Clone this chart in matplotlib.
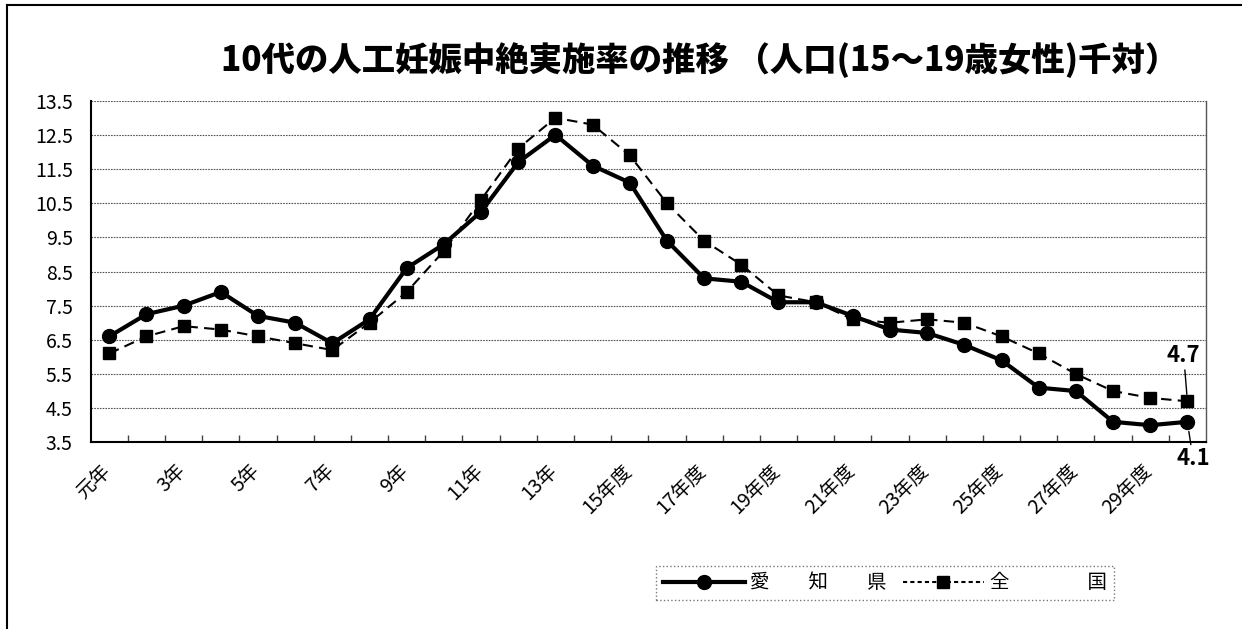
import matplotlib
matplotlib.use("Agg")
import matplotlib.pyplot as plt
from matplotlib.lines import Line2D

plt.rcParams['font.family'] = ['Noto Sans CJK JP', 'DejaVu Sans']

categories = (["元年"] + [f"{i}年" for i in range(2, 15)] +
              [f"{i}年度" for i in range(15, 31)])
aichi = [6.6, 7.25, 7.5, 7.9, 7.2, 7.0, 6.4, 7.1, 8.6, 9.3,
         10.25, 11.7, 12.5, 11.6, 11.1, 9.4, 8.3, 8.2, 7.6, 7.6,
         7.2, 6.8, 6.7, 6.35, 5.9, 5.1, 5.0, 4.1, 4.0, 4.1]
zenkoku = [6.1, 6.6, 6.9, 6.8, 6.6, 6.4, 6.2, 7.0, 7.9, 9.1,
           10.6, 12.1, 13.0, 12.8, 11.9, 10.5, 9.4, 8.7, 7.8, 7.6,
           7.1, 7.0, 7.1, 7.0, 6.6, 6.1, 5.5, 5.0, 4.8, 4.7]
yticks = [3.5, 4.5, 5.5, 6.5, 7.5, 8.5, 9.5, 10.5, 11.5, 12.5, 13.5]
title = "10代の人工妊娠中絶実施率の推移 （人口(15～19歳女性)千対）"
legend_labels = ["愛　　知　　県", "全　　　　国"]

fig = plt.figure(figsize=(12.42, 6.29), dpi=100)
ax = fig.add_axes([90.7/1242, 1-442.3/629, (1206-90.7)/1242, (442.3-100.7)/629])

x = list(range(len(categories)))
ax.plot(x, aichi, color='black', lw=3.0, marker='o', ms=10, zorder=4)
ax.plot(x, zenkoku, color='black', lw=1.5, ls=(0, (5, 3)), marker='s', ms=8.5, zorder=3)

ax.set_xlim(-0.5, len(categories) - 0.5)
ax.set_ylim(3.5, 13.5)
ax.set_yticks(yticks)
ax.set_yticklabels([f"{v}" for v in yticks], fontsize=14)
ax.tick_params(axis='y', length=0, pad=13)

ax.set_xticks(x)
ax.set_xticklabels([c if i % 2 == 0 else "" for i, c in enumerate(categories)],
                   rotation=45, ha='right', fontsize=14)
ax.tick_params(axis='x', which='major', length=0, pad=13)
ax.set_xticks([i - 0.5 for i in range(1, len(categories))], minor=True)
ax.tick_params(axis='x', which='minor', direction='in', length=5, width=1, color='#444444')
for lbl in ax.get_xticklabels():
    lbl.set_transform(lbl.get_transform() + matplotlib.transforms.ScaledTranslation(6/100, 0, fig.dpi_scale_trans))

ax.grid(axis='y', ls=(0, (1.5, 1)), color='#555555', lw=0.8)
ax.set_axisbelow(True)
ax.spines['top'].set_visible(False)
ax.spines['left'].set_linewidth(1.5)
ax.spines['bottom'].set_linewidth(1.5)
ax.spines['right'].set_linewidth(1.0)
ax.spines['right'].set_color('#555555')

# annotations for last values
last = len(categories) - 1
ax.annotate(f"{zenkoku[-1]}", xy=(last, zenkoku[-1]), xytext=(last - 0.1, 5.7),
            fontsize=16, fontweight='bold', ha='center', va='bottom',
            arrowprops=dict(arrowstyle='-', color='black', lw=1, shrinkA=0, shrinkB=5))
ax.annotate(f"{aichi[-1]}", xy=(last, aichi[-1]), xytext=(last + 0.15, 3.35),
            fontsize=16, fontweight='bold', ha='center', va='top', annotation_clip=False,
            arrowprops=dict(arrowstyle='-', color='black', lw=1, shrinkA=0, shrinkB=7))

fig.text(700/1242, 1-60/629, title, fontsize=24, fontweight='black',
         ha='center', va='center')

handles = [Line2D([], [], color='black', lw=3.0, marker='o', ms=10),
           Line2D([], [], color='black', lw=1.5, ls=(0, (2, 1.5)), marker='s', ms=8.5)]
leg = fig.legend(handles, legend_labels, loc='center', bbox_to_anchor=(885/1242, 1-583/629),
                 ncol=2, fontsize=14, handlelength=4.2, columnspacing=0.8, handletextpad=0.3,
                 fancybox=False, edgecolor='#555555', borderpad=0.35)
leg.get_frame().set_linestyle(':')
leg.get_frame().set_linewidth(1.0)

# outer frame (left & top)
fig.add_artist(Line2D([7/1242, 7/1242], [0, 1-5/629], color='black', lw=1.5))
fig.add_artist(Line2D([7/1242, 1], [1-5/629, 1-5/629], color='black', lw=1.5))

fig.savefig("out.png", dpi=100)
